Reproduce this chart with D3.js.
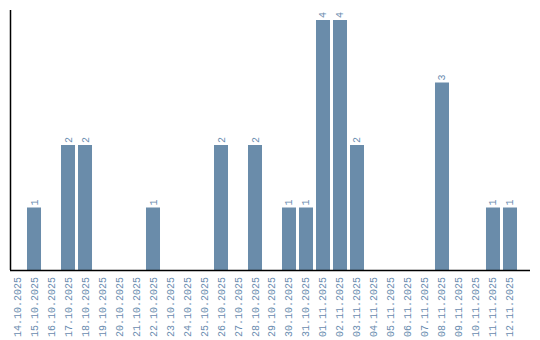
<!DOCTYPE html>
<html>
<head>
<meta charset="utf-8">
<script src="https://cdn.jsdelivr.net/npm/d3@7"></script>
<style>
  body { margin: 0; background: #fff; }
  .tick text, .val-label { font-family: "Liberation Mono", monospace; font-size: 10px; fill: #6a8caf; }
</style>
</head>
<body>
<script>
var days = ["14.10.2025","15.10.2025","16.10.2025","17.10.2025","18.10.2025","19.10.2025",
  "20.10.2025","21.10.2025","22.10.2025","23.10.2025","24.10.2025","25.10.2025","26.10.2025",
  "27.10.2025","28.10.2025","29.10.2025","30.10.2025","31.10.2025","01.11.2025","02.11.2025",
  "03.11.2025","04.11.2025","05.11.2025","06.11.2025","07.11.2025","08.11.2025","09.11.2025",
  "10.11.2025","11.11.2025","12.11.2025"];
var counts = [0,1,0,2,2,0,0,0,1,0,0,0,2,0,2,0,1,1,4,4,2,0,0,0,0,3,0,0,1,1];

var w = 540, h = 340;
var bottom = 270;

var data = days.map(function(d, i) { return {key: d, value: counts[i]}; });

var x = d3.scaleBand()
  .domain(days)
  .range([10, 517])
  .paddingInner(0.176)
  .paddingOuter(0);

var y = d3.scaleLinear()
  .domain([0, 4])
  .range([bottom, 20]);

var svg = d3.select("body").append("svg")
  .attr("width", w)
  .attr("height", h);

svg.selectAll(".bar")
  .data(data.filter(function(d) { return d.value > 0; }))
  .enter().append("rect")
  .attr("class", "bar")
  .attr("fill", "#6a8caa")
  .attr("x", function(d) { return x(d.key); })
  .attr("width", x.bandwidth())
  .attr("y", function(d) { return y(d.value); })
  .attr("height", function(d) { return bottom - y(d.value); });

svg.selectAll(".val-label")
  .data(data.filter(function(d) { return d.value > 0; }))
  .enter().append("text")
  .attr("class", "val-label")
  .attr("transform", function(d) {
    return "translate(" + (x(d.key) + x.bandwidth() / 2) + "," + (y(d.value) - 2) + ") rotate(-90)";
  })
  .attr("dy", "0.35em")
  .text(function(d) { return d.value; });

// date labels
var xAxis = d3.axisBottom(x).tickSize(0);
var gx = svg.append("g")
  .attr("transform", "translate(0," + bottom + ")")
  .call(xAxis);
gx.select(".domain").remove();
gx.selectAll(".tick text")
  .attr("transform", "translate(0,7) rotate(-90)")
  .attr("x", 0)
  .attr("y", 0)
  .attr("dy", "0.35em")
  .attr("text-anchor", "end")
  .attr("fill", null);

// axis lines
svg.append("line")
  .attr("x1", 10).attr("x2", 530)
  .attr("y1", bottom + 0.5).attr("y2", bottom + 0.5)
  .attr("stroke", "#000").attr("stroke-width", 1.5);
svg.append("line")
  .attr("x1", 10.5).attr("x2", 10.5)
  .attr("y1", 10).attr("y2", bottom)
  .attr("stroke", "#000").attr("stroke-width", 1.5);
</script>
</body>
</html>
